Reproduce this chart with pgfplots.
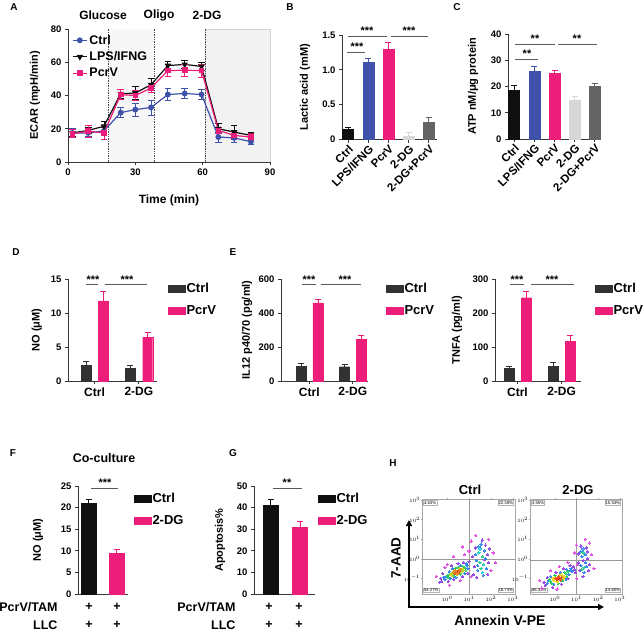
\documentclass[border=0pt]{standalone}
\usepackage{fontspec}
\setmainfont{Liberation Sans}
\usepackage{pgfplots}
\pgfplotsset{compat=1.18}
\usetikzlibrary{arrows.meta}
\definecolor{cblue}{RGB}{62,82,170}
\definecolor{cpink}{RGB}{236,30,121}
\definecolor{cblack}{RGB}{15,15,15}
\definecolor{cdark}{RGB}{50,50,50}
\definecolor{clight}{RGB}{215,215,215}
\definecolor{cgray}{RGB}{100,100,100}
\definecolor{axcol}{RGB}{55,55,55}
\definecolor{fm}{RGB}{225,85,225}
\definecolor{fb}{RGB}{70,70,235}
\definecolor{fc}{RGB}{40,205,235}
\definecolor{fg}{RGB}{50,205,60}
\definecolor{fy}{RGB}{240,215,40}
\definecolor{fr}{RGB}{230,40,30}
\newcommand\fs[1]{\fontsize{#1}{#1}\selectfont\bfseries}
\tikzset{pct/.style={draw=gray!60, line width=0.25pt, inner sep=0.6pt, fill=white, font=\fontsize{4.2}{5}\selectfont}}
\pgfplotsset{
 prism/.style={scale only axis, anchor=south west, axis lines*=left,
   axis line style={line width=1pt, draw=axcol},
   tick style={line width=0.9pt, draw=axcol},
   tick align=outside, major tick length=3pt,
   tick label style={font=\fs{9.5}},
   /pgf/number format/assume math mode=true,
   ylabel style={font=\fs{11}, anchor=center},
   clip=false},
 pbar/.style={fill=#1, draw=#1, line width=0.3pt, bar shift=0pt,
   error bars/.cd, y dir=plus, y explicit,
   error bar style={line width=0.9pt, draw=#1},
   error mark options={rotate=90, mark size=3pt, line width=0.9pt, draw=#1}},
 barlegend/.style={legend cell align=left,
   legend image code/.code={\fill[##1] (0pt,-3.5pt) rectangle (17pt,3.5pt);},
   legend style={draw=none, fill=none, inner sep=0pt, anchor=north west,
     font=\fs{13}, nodes={inner xsep=1pt, inner ysep=3pt}, row sep=5pt}},
 flow/.style={scale only axis, anchor=south west,
   axis line style={line width=0.4pt, draw=gray!70},
   tick style={line width=0.3pt, draw=gray!70}, tick align=outside, major tick length=1.2pt,
   tick label style={font=\fontsize{3.5}{4}\selectfont, inner sep=0.5pt},
   xmin=-1.15, xmax=3.1, ymin=-1.8, ymax=3.05,
   xtick={0,1,2,3}, xticklabels={$10^0$,$10^1$,$10^2$,$10^3$},
   ytick={-1,0,1,2,3}, yticklabels={$10^{-1}$,$10^0$,$10^1$,$10^2$,$10^3$},
   colormap={flowcm}{color=(fm) color=(fb) color=(fc) color=(fg) color=(fy) color=(fr)},
   point meta min=0, point meta max=1, clip=false},
 fpts/.style={scatter, only marks, mark=*, mark size=1.15pt,
   mark options={line width=0pt},
   scatter/use mapped color={draw=mapped color, fill=mapped color}, point meta=explicit},
}
\begin{document}
\begin{tikzpicture}
\useasboundingbox (0pt,0pt) rectangle (644pt,-631pt);

% ---------------- A ----------------
\begin{axis}[prism, at={(68pt,-162pt)}, width=202pt, height=133pt, axis on top,
  xmin=0, xmax=90, ymin=0, ymax=80, xtick={0,30,60,90}, ytick={0,20,40,60,80},
  ylabel={ECAR (mpH/min)}, ylabel style={at={(axis description cs:-0.163,0.5)}},
  xlabel={Time (min)}, xlabel style={font=\fs{12}, at={(axis description cs:0.5,-0.286)}, anchor=center},
  legend cell align=left,
  legend image code/.code={\draw[mark repeat=2,mark phase=2,#1] plot coordinates {(0pt,0pt) (7pt,0pt) (14pt,0pt)};},
  legend style={at={(0.02,0.975)}, anchor=north west, draw=none, fill=none, inner sep=0pt,
     font=\fs{12.5}, nodes={inner xsep=2pt, inner ysep=2.5pt}, row sep=1pt}]
\fill[gray!6] (axis cs:18,0) rectangle (axis cs:38.5,80);
\fill[gray!10, draw=gray!35, line width=0.4pt] (axis cs:61,0) rectangle (axis cs:90,80);
\draw[densely dotted, line width=0.7pt, black!70] (axis cs:18,0)--(axis cs:18,80);
\draw[densely dotted, line width=0.7pt, black!70] (axis cs:38.5,0)--(axis cs:38.5,80);
\draw[densely dotted, line width=0.7pt, black!70] (axis cs:61,0)--(axis cs:61,80);
\addplot[cblue, line width=1.2pt, mark=*, mark size=2.3pt,
  error bars/.cd, y dir=both, y explicit, error bar style={line width=0.8pt},
  error mark options={rotate=90, mark size=3.3pt, line width=0.8pt}]
  table[x=t, y=v, y error=e] {
t v e
2 17.5 3
9 17.5 2
16 18.7 2
23.5 29.7 3
30 31.5 4
37 32.8 4.5
44.5 40.6 3.5
52 41.2 3
59.5 40.6 3
67 15 3
74 14.5 3
81.5 12.2 1.5
};
\addlegendentry{Ctrl}
\addplot[cblack, line width=1.2pt, mark=triangle*, mark size=2.6pt, mark options={rotate=180},
  error bars/.cd, y dir=both, y explicit, error bar style={line width=0.8pt},
  error mark options={rotate=90, mark size=3.3pt, line width=0.8pt}]
  table[x=t, y=v, y error=e] {
t v e
2 17.5 2
9 19 2
16 21.5 3
23.5 41 2.5
30 41.5 4
37 46.5 3.5
44.5 58 2.5
52 58.7 2.5
59.5 57.5 2.5
67 20 3
74 18 4
81.5 16 2
};
\addlegendentry{LPS/IFNG}
\addplot[cpink, line width=1.2pt, mark=square*, mark size=2.2pt,
  error bars/.cd, y dir=both, y explicit, error bar style={line width=0.8pt},
  error mark options={rotate=90, mark size=3.3pt, line width=0.8pt}]
  table[x=t, y=v, y error=e] {
t v e
2 17 2.5
9 18.5 3.5
16 17.5 4
23.5 40.5 3
30 40 3
37 44.5 2.5
44.5 55 3.5
52 55.2 3.5
59.5 55 4
67 19 2
74 16 2.5
81.5 15 2
};
\addlegendentry{PcrV}
\end{axis}

% ---------------- B ----------------
\begin{axis}[prism, at={(342pt,-139.5pt)}, width=95pt, height=104.5pt,
  xmin=-0.3, xmax=4.4, ymin=0, ymax=1.5, ytick={0,0.5,1,1.5}, yticklabels={0,0.5,1.0,1.5},
  xtick={0,1,2,3,4}, xticklabels={Ctrl,LPS/IFNG,PcrV,2-DG,2-DG+PcrV},
  xticklabel style={rotate=45, anchor=north east, font=\fs{11.5}, inner sep=1pt},
  ylabel={Lactic acid (mM)}, ylabel style={at={(axis description cs:-0.39,0.5)}},
  ybar, bar width=11pt]
\addplot[pbar=cblack] coordinates {(0,0.15) +- (0,0.03)};
\addplot[pbar=cblue] coordinates {(1,1.11) +- (0,0.06)};
\addplot[pbar=cpink] coordinates {(2,1.30) +- (0,0.09)};
\addplot[pbar=clight] coordinates {(3,0.05) +- (0,0.05)};
\addplot[pbar=cgray] coordinates {(4,0.25) +- (0,0.06)};
\end{axis}

% ---------------- C ----------------
\begin{axis}[prism, at={(508pt,-139pt)}, width=93pt, height=105pt,
  xmin=-0.3, xmax=4.3, ymin=0, ymax=40, ytick={0,10,20,30,40},
  xtick={0,1,2,3,4}, xticklabels={Ctrl,LPS/IFNG,PcrV,2-DG,2-DG+PcrV},
  xticklabel style={rotate=45, anchor=north east, font=\fs{11.5}, inner sep=1pt},
  ylabel={ATP nM/μg protein}, ylabel style={at={(axis description cs:-0.376,0.5)}},
  ybar, bar width=11pt]
\addplot[pbar=cblack] coordinates {(0,18.5) +- (0,2)};
\addplot[pbar=cblue] coordinates {(1,26) +- (0,1.5)};
\addplot[pbar=cpink] coordinates {(2,25.1) +- (0,1)};
\addplot[pbar=clight] coordinates {(3,14.7) +- (0,1.7)};
\addplot[pbar=cgray] coordinates {(4,20.3) +- (0,0.7)};
\end{axis}

% ---------------- D ----------------
\begin{axis}[prism, ybar, bar width=10pt, barlegend, at={(68pt,-381pt)}, width=89pt, height=102pt,
  xmin=0.4, xmax=2.41, ymin=0, ymax=15, ytick={0,5,10,15},
  xtick={1,2}, xticklabels={Ctrl,2-DG}, xticklabel style={font=\fs{12}},
  ylabel={NO (μM)}, ylabel style={at={(axis description cs:-0.35,0.5)}},
  legend style={at={(1.124,0.99)}}]
\addplot[pbar=cdark] coordinates {(0.81,2.35) +- (0,0.5) (1.81,1.86) +- (0,0.5)};
\addlegendentry{Ctrl}
\addplot[pbar=cpink] coordinates {(1.2,11.8) +- (0,1.3) (2.2,6.4) +- (0,0.7)};
\addlegendentry{PcrV}
\end{axis}

% ---------------- E1 ----------------
\begin{axis}[prism, ybar, bar width=10pt, barlegend, at={(281pt,-381pt)}, width=87pt, height=102pt,
  xmin=0.35, xmax=2.35, ymin=0, ymax=600, ytick={0,200,400,600},
  xtick={1,2}, xticklabels={Ctrl,2-DG}, xticklabel style={font=\fs{12}},
  ylabel={IL12 p40/70 (pg/ml)}, ylabel style={at={(axis description cs:-0.39,0.5)}},
  legend style={at={(1.207,0.99)}}]
\addplot[pbar=cdark] coordinates {(0.81,88) +- (0,15) (1.81,84) +- (0,14)};
\addlegendentry{Ctrl}
\addplot[pbar=cpink] coordinates {(1.2,460) +- (0,22) (2.2,245) +- (0,22)};
\addlegendentry{PcrV}
\end{axis}

% ---------------- E2 ----------------
\begin{axis}[prism, ybar, bar width=10pt, barlegend, at={(495pt,-381pt)}, width=86pt, height=102pt,
  xmin=0.49, xmax=2.44, ymin=0, ymax=300, ytick={0,100,200,300},
  xtick={1,2}, xticklabels={Ctrl,2-DG}, xticklabel style={font=\fs{12}},
  ylabel={TNFA (pg/ml)}, ylabel style={at={(axis description cs:-0.44,0.5)}},
  legend style={at={(1.163,0.99)}}]
\addplot[pbar=cdark] coordinates {(0.81,38) +- (0,6) (1.81,43) +- (0,11)};
\addlegendentry{Ctrl}
\addplot[pbar=cpink] coordinates {(1.2,245) +- (0,18) (2.2,116) +- (0,17)};
\addlegendentry{PcrV}
\end{axis}

% ---------------- F ----------------
\begin{axis}[prism, ybar, bar width=15pt, barlegend, at={(78pt,-594pt)}, width=50pt, height=108pt,
  xmin=0.625, xmax=2.41, ymin=0, ymax=25, ytick={0,5,10,15,20,25}, xtick=\empty,
  ylabel={NO (μM)}, ylabel style={at={(axis description cs:-0.8,0.5)}},
  legend style={at={(1.12,0.96)}}]
\addplot[pbar=cblack] coordinates {(1,21.1) +- (0,0.7)};
\addlegendentry{Ctrl}
\addplot[pbar=cpink] coordinates {(2,9.5) +- (0,0.9)};
\addlegendentry{2-DG}
\end{axis}

% ---------------- G ----------------
\begin{axis}[prism, ybar, bar width=15pt, barlegend, at={(254pt,-594pt)}, width=61pt, height=108pt,
  xmin=0.44, xmax=2.51, ymin=0, ymax=50, ytick={0,10,20,30,40,50}, xtick=\empty,
  ylabel={Apoptosis\%}, ylabel style={at={(axis description cs:-0.557,0.5)}},
  legend style={at={(1.05,0.96)}}]
\addplot[pbar=cblack] coordinates {(1,41.3) +- (0,2.6)};
\addlegendentry{Ctrl}
\addplot[pbar=cpink] coordinates {(2,31.1) +- (0,2.6)};
\addlegendentry{2-DG}
\end{axis}

% ---------------- H (Ctrl) ----------------
\begin{axis}[flow, at={(422pt,-594pt)}, width=93pt, height=95pt]
\addplot[fpts] table[meta=c] {
x y c
-0.5 -0.9 0
0.1 -1.35 0
0.6 -1.1 0
0.3 0.1 0
0.0 -0.3 0
0.8 0.2 0
-0.1 -0.45 0
1.1 -0.9 0
-0.25 -1.15 0.1
-0.30 -1.0 0.1
0.05 -1.15 0.1
0.30 -1.05 0.1
0.70 -0.90 0.1
1.0 -0.15 0.1
0.95 -0.75 0.1
-0.2 -0.75 0.1
0.2 -0.35 0.1
0.5 -0.25 0.1
0.75 -0.2 0.1
-0.35 -1.2 0.1
-0.10 -1.05 0.3
-0.05 -0.90 0.3
0.15 -1.00 0.3
0.90 -0.35 0.3
0.95 -0.50 0.3
0.25 -0.50 0.3
0.60 -0.35 0.3
0.80 -0.75 0.3
-0.15 -0.95 0.3
0.40 -0.95 0.3
0.88 -0.25 0.3
0.10 -0.65 0.3
0.05 -0.95 0.55
0.10 -0.82 0.55
0.30 -0.88 0.55
0.50 -0.45 0.55
0.80 -0.45 0.55
0.85 -0.60 0.55
0.62 -0.78 0.55
0.00 -0.88 0.55
0.38 -0.48 0.55
0.72 -0.40 0.55
0.20 -0.85 0.75
0.25 -0.72 0.75
0.35 -0.60 0.75
0.65 -0.65 0.75
0.70 -0.50 0.75
0.55 -0.50 0.75
0.15 -0.80 0.75
0.45 -0.82 0.75
0.75 -0.58 0.75
0.35 -0.75 0.95
0.45 -0.68 1
0.55 -0.62 0.95
0.40 -0.62 0.9
0.50 -0.75 0.9
0.30 -0.70 0.9
0.60 -0.55 0.9
2.1 0.3 0
1.0 0.4 0
2.0 -0.6 0
1.3 1.2 0
2.2 -0.2 0
1.9 1.0 0
1.1 0.9 0
0.7 0.6 0
1.25 -0.4 0.1
1.85 0.2 0.1
1.9 -0.2 0.1
1.3 0.55 0.1
1.75 0.7 0.1
1.2 -0.8 0.1
1.85 -0.8 0.1
1.6 0.95 0.1
1.35 -0.95 0.1
1.95 0.5 0.1
1.15 0.1 0.1
1.7 -0.05 0.1
1.35 -0.1 0.3
1.75 0.0 0.3
1.4 -0.6 0.3
1.7 0.4 0.3
1.45 0.6 0.3
1.8 -0.5 0.3
1.3 0.2 0.3
1.55 0.75 0.3
1.65 -0.85 0.3
1.4 -0.35 0.3
1.5 -0.2 0.5
1.6 0.1 0.5
1.55 -0.5 0.5
1.45 0.3 0.45
1.65 -0.3 0.45
1.5 0.5 0.4
1.6 -0.7 0.4
};
\draw[line width=0.5pt, gray!80] (axis cs:1,-1.8)--(axis cs:1,3.05);
\draw[line width=0.5pt, gray!80] (axis cs:-1.15,0)--(axis cs:3.1,0);
\node[pct, anchor=north west] at (rel axis cs:0.015,0.985) {4.63\%};
\node[pct, anchor=north east] at (rel axis cs:0.985,0.985) {22.38\%};
\node[pct, anchor=south west] at (rel axis cs:0.015,0.015) {54.27\%};
\node[pct, anchor=south east] at (rel axis cs:0.985,0.015) {18.73\%};
\end{axis}

% ---------------- H (2-DG) ----------------
\begin{axis}[flow, at={(530pt,-594pt)}, width=92pt, height=95pt]
\addplot[fpts] table[meta=c] {
x y c
-0.7 -1.1 0
0.2 -0.4 0
1.0 -1.0 0
-0.2 -0.6 0
0.6 -0.2 0
0.1 -1.55 0
-0.6 -1.5 0
1.05 -0.3 0
-0.45 -1.35 0.1
-0.5 -1.2 0.1
0.85 -0.4 0.1
0.9 -0.55 0.1
0.3 -1.3 0.1
-0.35 -0.95 0.1
0.7 -0.35 0.1
0.6 -1.0 0.1
0.05 -0.7 0.1
-0.1 -1.45 0.1
0.95 -0.7 0.1
0.4 -0.5 0.1
-0.35 -1.25 0.3
-0.3 -1.1 0.3
0.7 -0.6 0.3
0.65 -0.8 0.3
0.75 -0.5 0.3
-0.05 -1.3 0.3
0.5 -1.05 0.3
0.25 -0.7 0.3
-0.2 -0.9 0.3
0.8 -0.65 0.3
0.55 -0.55 0.3
-0.2 -1.15 0.55
-0.15 -1.25 0.55
0.5 -0.75 0.55
0.55 -0.9 0.55
0.35 -1.12 0.55
-0.25 -1.05 0.55
0.6 -0.65 0.55
0.0 -0.85 0.55
0.15 -1.25 0.55
0.45 -0.7 0.55
-0.05 -1.1 0.8
0.35 -0.85 0.8
0.0 -0.98 0.8
0.4 -1.0 0.8
0.1 -1.18 0.8
0.3 -0.8 0.8
-0.1 -1.0 0.8
0.45 -0.9 0.8
0.2 -0.85 0.8
0.1 -1.05 1
0.2 -1.0 1
0.3 -0.95 0.95
0.15 -0.92 0.95
0.25 -1.08 0.95
0.05 -1.0 0.95
1.7 0.2 0
1.0 0.7 0
1.8 -0.5 0
1.4 1.0 0
0.9 0.3 0
1.6 0.8 0
1.1 0.25 0.1
1.5 0.35 0.1
1.15 -0.6 0.1
1.55 -0.6 0.1
1.3 -0.9 0.1
1.45 0.55 0.1
1.1 -0.2 0.1
1.5 0.0 0.1
1.2 0.65 0.1
1.6 -0.3 0.1
1.3 -0.1 0.1
1.2 0.35 0.3
1.4 0.2 0.3
1.3 0.5 0.3
1.45 -0.4 0.3
1.2 -0.35 0.3
1.35 -0.7 0.3
1.25 0.1 0.3
1.4 -0.2 0.3
1.3 0.3 0.5
1.35 -0.45 0.5
1.25 -0.55 0.5
};
\draw[line width=0.5pt, gray!80] (axis cs:1,-1.8)--(axis cs:1,3.05);
\draw[line width=0.5pt, gray!80] (axis cs:-1.15,-0.1)--(axis cs:3.1,-0.1);
\node[pct, anchor=north west] at (rel axis cs:0.015,0.985) {3.55\%};
\node[pct, anchor=north east] at (rel axis cs:0.985,0.985) {15.53\%};
\node[pct, anchor=south west] at (rel axis cs:0.015,0.015) {66.32\%};
\node[pct, anchor=south east] at (rel axis cs:0.985,0.015) {14.60\%};
\end{axis}

% ---------------- annotations (px coordinates) ----------------
\begin{scope}[x=1pt,y=-1pt]
\node[font=\fs{10}] at (14,7) {A};
\node[font=\fs{10}] at (290,7) {B};
\node[font=\fs{10}] at (457,7) {C};
\node[font=\fs{10}] at (16,252) {D};
\node[font=\fs{10}] at (233,252) {E};
\node[font=\fs{10}] at (13,453) {F};
\node[font=\fs{10}] at (233,453) {G};
\node[font=\fs{10}] at (393,463) {H};
\node[font=\fs{12}] at (103,15) {Glucose};
\node[font=\fs{12}] at (159,15) {Oligo};
\node[font=\fs{12}] at (207,15) {2-DG};
% significance
\tikzset{sl/.style={line width=0.8pt, draw=black!65}, st/.style={font=\fs{11}, anchor=base, inner sep=0pt}}
\draw[sl] (347,52)--(365,52); \node[st] at (357,51) {***};
\draw[sl] (348,36)--(387,36); \node[st] at (367,35) {***};
\draw[sl] (391,36)--(428,36); \node[st] at (409,35) {***};
\draw[sl] (515,59)--(538,59); \node[st] at (527,58) {**};
\draw[sl] (515,44)--(555,44); \node[st] at (535,43) {**};
\draw[sl] (558,44)--(597,44); \node[st] at (577,43) {**};
\draw[sl] (86,284)--(98,284); \node[st] at (93,283) {***};
\draw[sl] (105,284)--(147,284); \node[st] at (127,283) {***};
\draw[sl] (302,284)--(316,284); \node[st] at (309,283) {***};
\draw[sl] (321,284)--(361,284); \node[st] at (345,283) {***};
\draw[sl] (510,284)--(524,284); \node[st] at (517,283) {***};
\draw[sl] (531,284)--(574,284); \node[st] at (552,283) {***};
\draw[sl] (91,488)--(118,488); \node[st] at (105,486) {***};
\draw[sl] (273,488)--(302,488); \node[st] at (287,486) {**};
% F / G
\node[font=\fs{12.5}] at (104,458) {Co-culture};
\node[font=\fs{12.5}, anchor=east] at (61,607) {PcrV/TAM};
\node[font=\fs{12.5}, anchor=east] at (61,625) {LLC};
\node[font=\fs{12.5}] at (89,607) {+};
\node[font=\fs{12.5}] at (117,607) {+};
\node[font=\fs{12.5}] at (89,625) {+};
\node[font=\fs{12.5}] at (117,625) {+};
\node[font=\fs{12.5}, anchor=east] at (239,607) {PcrV/TAM};
\node[font=\fs{12.5}, anchor=east] at (239,625) {LLC};
\node[font=\fs{12.5}] at (269,607) {+};
\node[font=\fs{12.5}] at (299,607) {+};
\node[font=\fs{12.5}] at (269,625) {+};
\node[font=\fs{12.5}] at (299,625) {+};
% H
\node[font=\fs{13}] at (470,490) {Ctrl};
\node[font=\fs{13}] at (578,490) {2-DG};
\draw[line width=1.6pt, {Triangle[length=6pt,width=6pt]}-{Triangle[length=6pt,width=6pt]}] (409,520)--(409,607)--(604,607);
\node[font=\fs{13.5}, rotate=90] at (396,558) {7-AAD};
\node[font=\fs{14}] at (500,620) {Annexin V-PE};
\end{scope}
\end{tikzpicture}
\end{document}
